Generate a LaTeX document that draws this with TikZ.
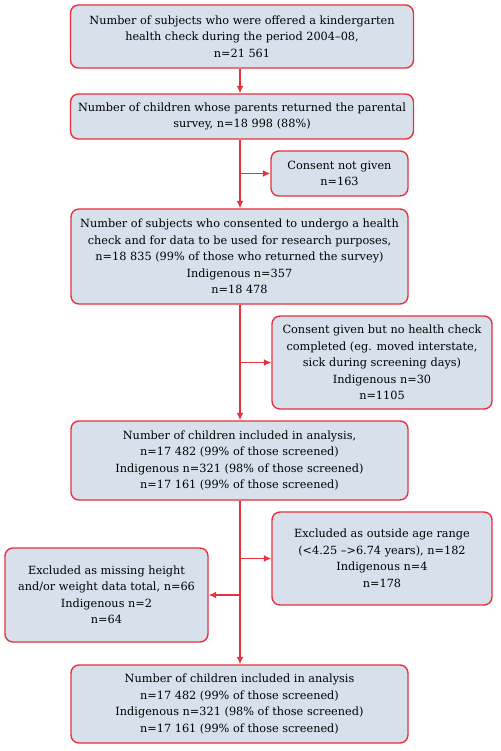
\documentclass[tikz,border=0pt]{standalone}
\usepackage{fontspec}
\setmainfont{DejaVu Serif}
\usetikzlibrary{arrows.meta}
\definecolor{boxfill}{HTML}{D8E1EB}
\definecolor{boxline}{HTML}{E8313C}
\tikzset{
  x=1pt,y=1pt,
  box/.style={draw=boxline, fill=boxfill, line width=1.4pt, rounded corners=8pt,
    align=center, inner sep=0pt, font=\fontsize{11.3}{16.5}\selectfont},
  arr/.style={draw=boxline, line width=1.6pt, -{Latex[length=7.5pt,width=7pt]}}
}
\begin{document}
\begin{tikzpicture}
\useasboundingbox (0,0) rectangle (500,-751);
\node[box, minimum width=343pt, minimum height=63pt] (b1) at (242,-36.5)
  {Number of subjects who were offered a kindergarten\\health check during the period 2004--08,\\n=21 561};
\node[box, minimum width=343pt, minimum height=45pt] (b2) at (242,-116.5)
  {Number of children whose parents returned the parental\\survey, n=18 998 (88\%)};
\node[box, minimum width=137pt, minimum height=45pt] (c1) at (339.5,-173.5)
  {Consent not given\\n=163};
\node[box, minimum width=337pt, minimum height=95pt] (b3) at (239.5,-256.5)
  {Number of subjects who consented to undergo a health\\check and for data to be used for research purposes,\\n=18 835 (99\% of those who returned the survey)\\Indigenous n=357\\n=18 478};
\node[box, minimum width=220pt, minimum height=93pt] (c2) at (382,-362.5)
  {Consent given but no health check\\completed (eg. moved interstate,\\sick during screening days)\\Indigenous n=30\\n=1105};
\node[box, minimum width=337pt, minimum height=79pt] (b4) at (239.5,-460.5)
  {Number of children included in analysis,\\n=17 482 (99\% of those screened)\\Indigenous n=321 (98\% of those screened)\\n=17 161 (99\% of those screened)};
\node[box, minimum width=220pt, minimum height=93pt] (e1) at (382,-558.5)
  {Excluded as outside age range\\(<4.25 -->6.74 years), n=182\\Indigenous n=4\\n=178};
\node[box, minimum width=203pt, minimum height=94pt] (e2) at (106.5,-595)
  {Excluded as missing height\\and/or weight data total, n=66\\Indigenous n=2\\n=64};
\node[box, minimum width=337pt, minimum height=78pt] (b5) at (239.5,-704)
  {Number of children included in analysis\\n=17 482 (99\% of those screened)\\Indigenous n=321 (98\% of those screened)\\n=17 161 (99\% of those screened)};
\coordinate (s) at (240,0);
\coordinate (j1) at (240,-173.5);
\coordinate (j2) at (240,-362.5);
\coordinate (j3) at (240,-558.5);
\coordinate (j4) at (240,-595);
\draw[arr] (b1.south -| s) -- (b2.north -| s);
\draw[arr] (b2.south -| s) -- (b3.north -| s);
\draw[arr] (j1) -- (c1.west);
\draw[arr] (b3.south -| s) -- (b4.north -| s);
\draw[arr] (j2) -- (c2.west);
\draw[arr] (b4.south -| s) -- (b5.north -| s);
\draw[arr] (j3) -- (e1.west);
\draw[arr] (j4) -- (e2.east);
\end{tikzpicture}
\end{document}
